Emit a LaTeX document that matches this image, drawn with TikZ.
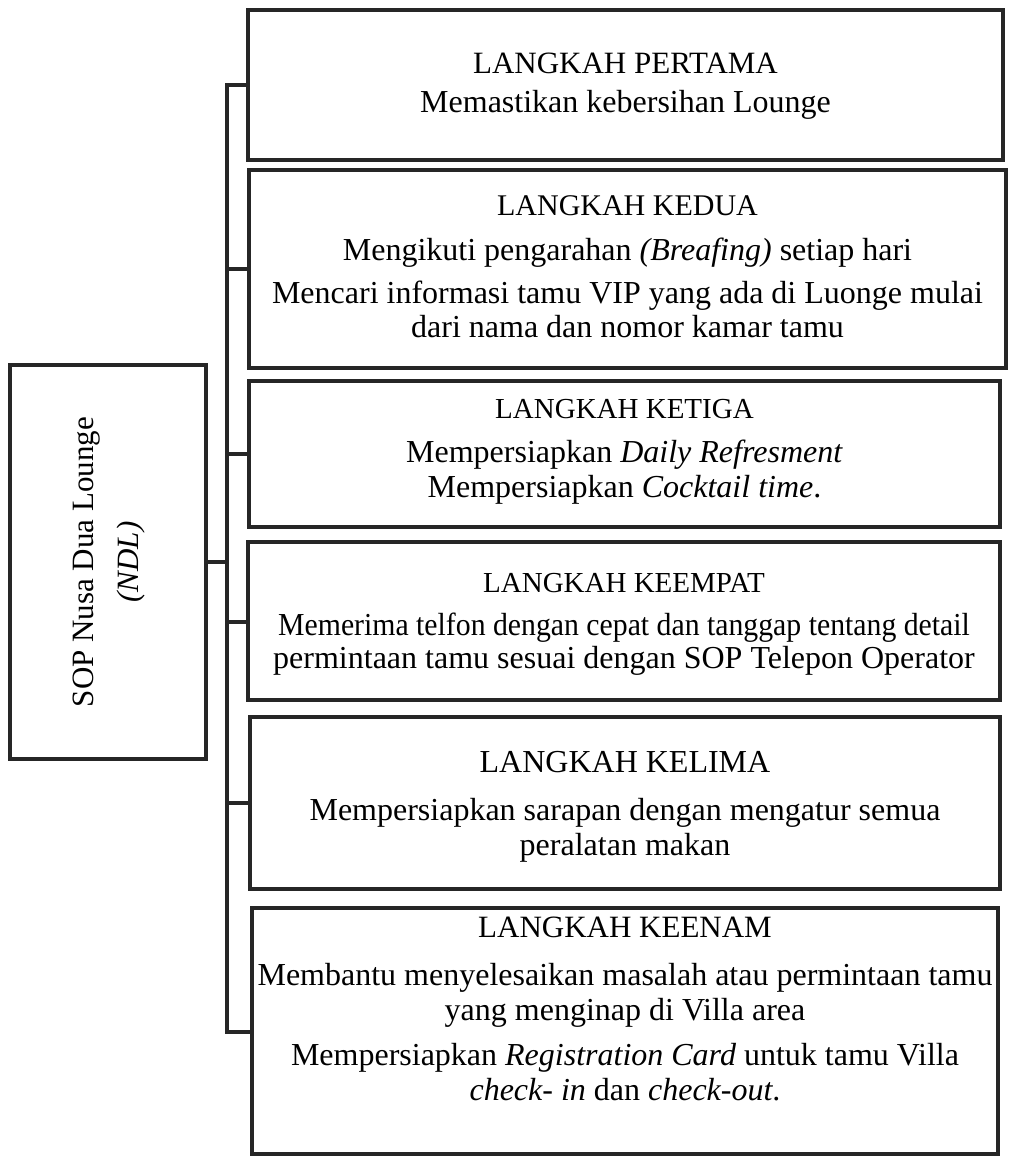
\documentclass[tikz,border=0pt]{standalone}
\usepackage{fontspec}
\setmainfont{Liberation Serif}
\begin{document}
\begin{tikzpicture}[x=1pt,y=-1pt,
  boxst/.style={draw=black!85, line width=3.6pt, rectangle, inner sep=0pt, outer sep=0pt, anchor=north west},
  conn/.style={draw=black!85, line width=3.4pt, line join=miter},
  hd/.style={anchor=base, inner sep=0pt, font=\fontsize{#1}{#1}\selectfont},
  hd/.default=30,
  tx/.style={anchor=base, inner sep=0pt, font=\fontsize{#1}{#1}\selectfont},
  tx/.default=32]
\useasboundingbox (0,0) rectangle (1009,1157);
% root box
\node[boxst, minimum width=196pt, minimum height=394pt] (root) at (10,365) {};
\node[tx=31, rotate=90] (rt1) at (93,562) {SOP Nusa Dua Lounge};
\node[tx=31, rotate=90] (rt2) at (138,562) {\textit{(NDL)}};
% step boxes
\node[boxst, minimum width=755pt, minimum height=150pt] (b1) at (248,10) {};
\node[boxst, minimum width=757pt, minimum height=198pt] (b2) at (249,170) {};
\node[boxst, minimum width=751pt, minimum height=146pt] (b3) at (249,381) {};
\node[boxst, minimum width=752pt, minimum height=158pt] (b4) at (248,542) {};
\node[boxst, minimum width=750pt, minimum height=172pt] (b5) at (250,717) {};
\node[boxst, minimum width=746pt, minimum height=246pt] (b6) at (252,908) {};
% texts
\node[hd=31] (t11) at (625.5,73) {LANGKAH PERTAMA};
\node[tx] (t12) at (625.5,112) {Memastikan kebersihan Lounge};
\node[hd=30] (t21) at (627.5,215) {LANGKAH KEDUA};
\node[tx] (t22) at (627.5,260) {Mengikuti pengarahan \textit{(Breafing)} setiap hari};
\node[tx] (t23) at (627.5,303) {Mencari informasi tamu VIP yang ada di Luonge mulai};
\node[tx] (t24) at (627.5,337) {dari nama dan nomor kamar tamu};
\node[hd=29] (t31) at (624.5,418) {LANGKAH KETIGA};
\node[tx] (t32) at (624.5,462) {Mempersiapkan \textit{Daily Refresment}};
\node[tx] (t33) at (624.5,497) {Mempersiapkan \textit{Cocktail time}.};
\node[hd=29] (t41) at (624,592) {LANGKAH KEEMPAT};
\node[tx, xscale=0.93] (t42) at (624,635) {Memerima telfon dengan cepat dan tanggap tentang detail};
\node[tx] (t43) at (624,668) {permintaan tamu sesuai dengan SOP Telepon Operator};
\node[hd=32] (t51) at (625,772) {LANGKAH KELIMA};
\node[tx] (t52) at (625,820) {Mempersiapkan sarapan dengan mengatur semua};
\node[tx] (t53) at (625,855) {peralatan makan};
\node[hd=31] (t61) at (625,937) {LANGKAH KEENAM};
\node[tx] (t62) at (625,985) {Membantu menyelesaikan masalah atau permintaan tamu};
\node[tx] (t63) at (625,1020) {yang menginap di Villa area};
\node[tx] (t64) at (625,1065) {Mempersiapkan \textit{Registration Card} untuk tamu Villa};
\node[tx] (t65) at (625,1100) {\textit{check- in} dan \textit{check-out}.};
% spine and connectors
\coordinate (s1) at (227,85);
\coordinate (s2) at (227,269);
\coordinate (s3) at (227,454);
\coordinate (s4) at (227,622);
\coordinate (s5) at (227,803);
\coordinate (s6) at (227,1032);
\coordinate (sr) at (227,562);
\draw[conn] (b1.west |- s1) -- (s1) -- (s6) -- (b6.west |- s6);
\draw[conn] (s2) -- (b2.west |- s2);
\draw[conn] (s3) -- (b3.west |- s3);
\draw[conn] (s4) -- (b4.west |- s4);
\draw[conn] (s5) -- (b5.west |- s5);
\draw[conn] (root.east |- sr) -- (sr);
\end{tikzpicture}
\end{document}
